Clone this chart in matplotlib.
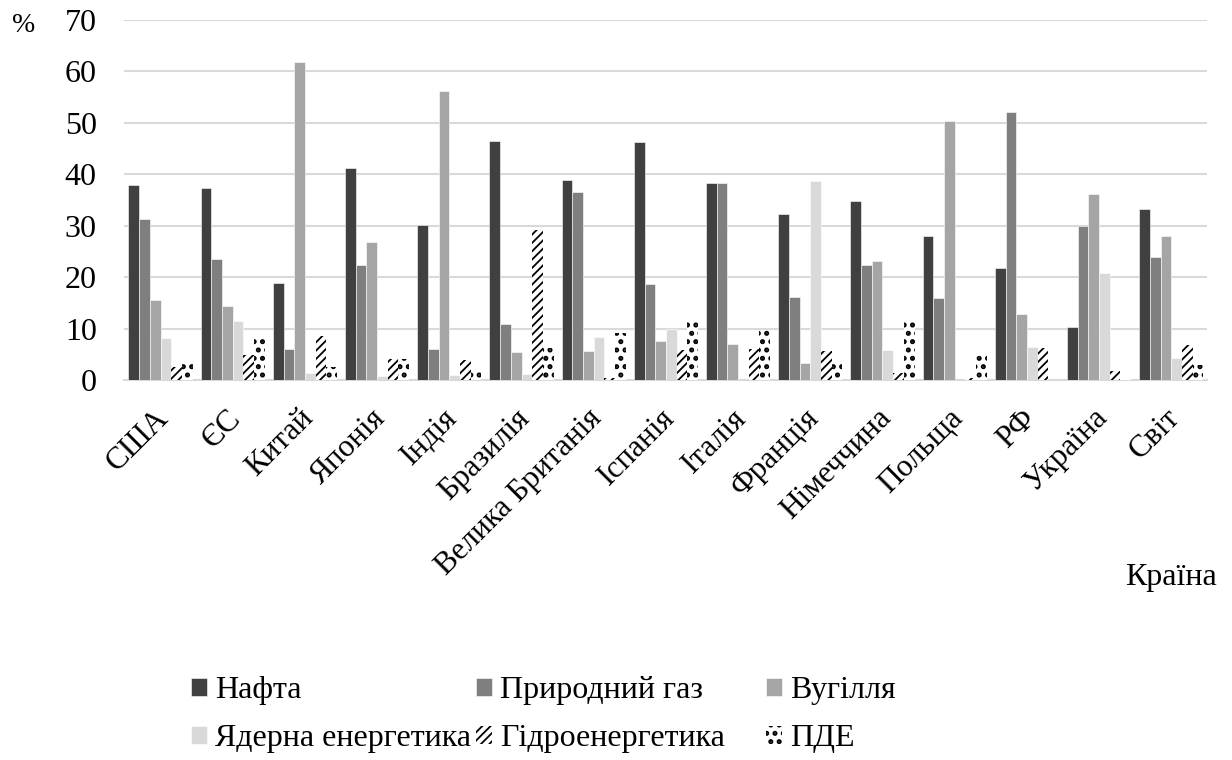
import numpy as np
import matplotlib
matplotlib.use("Agg")
import matplotlib.pyplot as plt
import matplotlib.transforms as mtransforms

plt.rcParams['font.family'] = ['Liberation Serif', 'DejaVu Serif']

countries = ["США", "ЄС", "Китай", "Японія", "Індія", "Бразилія", "Велика Британія",
             "Іспанія", "Італія", "Франція", "Німеччина", "Польща", "РФ", "Україна", "Світ"]

oil     = [37.9, 37.3, 18.8, 41.3, 30.1, 46.5, 38.8, 46.2, 38.3, 32.3, 34.9, 28.0, 21.8, 10.3, 33.2]
gas     = [31.4, 23.5, 6.0, 22.4, 6.0, 10.9, 36.6, 18.6, 38.3, 16.1, 22.4, 16.0, 52.1, 29.9, 24.0]
coal    = [15.6, 14.4, 61.8, 26.8, 56.2, 5.4, 5.6, 7.6, 7.0, 3.4, 23.2, 50.4, 12.8, 36.2, 28.0]
nuclear = [8.2, 11.5, 1.4, 0.8, 1.0, 1.1, 8.4, 9.9, 0.0, 38.6, 5.8, 0.0, 6.4, 20.9, 4.3]
hydro   = [2.6, 4.9, 8.6, 4.0, 3.9, 29.2, 0.3, 5.8, 6.0, 5.6, 1.4, 0.3, 6.2, 1.7, 6.8]
res     = [3.6, 8.1, 2.6, 4.0, 1.7, 6.3, 9.1, 11.3, 9.7, 3.4, 11.5, 4.7, 0.0, 0.3, 3.0]

series_names = ["Нафта", "Природний газ", "Вугілля", "Ядерна енергетика", "Гідроенергетика", "ПДЕ"]
series = [oil, gas, coal, nuclear, hydro, res]
faces = ["#404040", "#7f7f7f", "#a5a5a5", "#d9d9d9", "white", "white"]
hatches = [None, None, None, None, "////", ".."]
hatch_lw = [1.0, 1.0, 1.0, 1.0, 1.3, 2.4]

fig = plt.figure(figsize=(12.32, 7.6), dpi=100)
ax = fig.add_axes([0.101, 0.5, 0.879, 0.4737])

x = np.arange(len(countries))
w = 0.148
handles = []
for i, (vals, name, fc, h, hl) in enumerate(zip(series, series_names, faces, hatches, hatch_lw)):
    pos = x - 2.5 * w + i * w
    with plt.rc_context({'hatch.linewidth': hl}):
        bars = ax.bar(pos, vals, width=w, color=fc, hatch=h,
                      edgecolor="black" if h else "white", linewidth=0 if h else 0.4,
                      label=name, zorder=3)
    handles.append(bars)

ax.set_xlim(-0.5, len(countries) - 0.5)
ax.set_ylim(0, 70)
ax.set_yticks(range(0, 71, 10))
ax.yaxis.grid(True, color="#d9d9d9", linewidth=1.5, zorder=0)
ax.set_axisbelow(True)
for s in ["top", "right", "left"]:
    ax.spines[s].set_visible(False)
ax.spines["bottom"].set_color("#d9d9d9")
ax.spines["bottom"].set_linewidth(1.5)
ax.tick_params(axis="both", length=0, colors="black")
ax.tick_params(axis="y", pad=20, labelsize=23)
ax.set_xticks(x)
ax.set_xticklabels(countries, rotation=45, ha="right", va="top",
                   rotation_mode="anchor", fontsize=22.5)
ax.tick_params(axis="x", pad=17)
shift = mtransforms.ScaledTranslation(-6 / 100, 0, fig.dpi_scale_trans)
for lbl in ax.get_xticklabels():
    lbl.set_transform(lbl.get_transform() + shift)

fig.text(24 / 1232, 1 - 26 / 760, "%", fontsize=20, ha="center", va="center")
fig.text(1217 / 1232, 1 - 577 / 760, "Країна", fontsize=23, ha="right", va="center")

# legend: three equal-width columns, two rows
col_x = [191, 476, 766]
for c in range(3):
    idx = [c, c + 3]
    with plt.rc_context({'hatch.linewidth': hatch_lw[c + 3]}):
        fig.legend([handles[i] for i in idx], [series_names[i] for i in idx],
                   loc="upper left", bbox_to_anchor=(col_x[c] / 1232, 1 - 676 / 760),
                   ncol=1, frameon=False, fontsize=23, handlelength=0.5,
                   handleheight=0.5, handletextpad=0.25, labelspacing=0.6,
                   borderaxespad=0, borderpad=0)

fig.savefig("out.png", dpi=100)
